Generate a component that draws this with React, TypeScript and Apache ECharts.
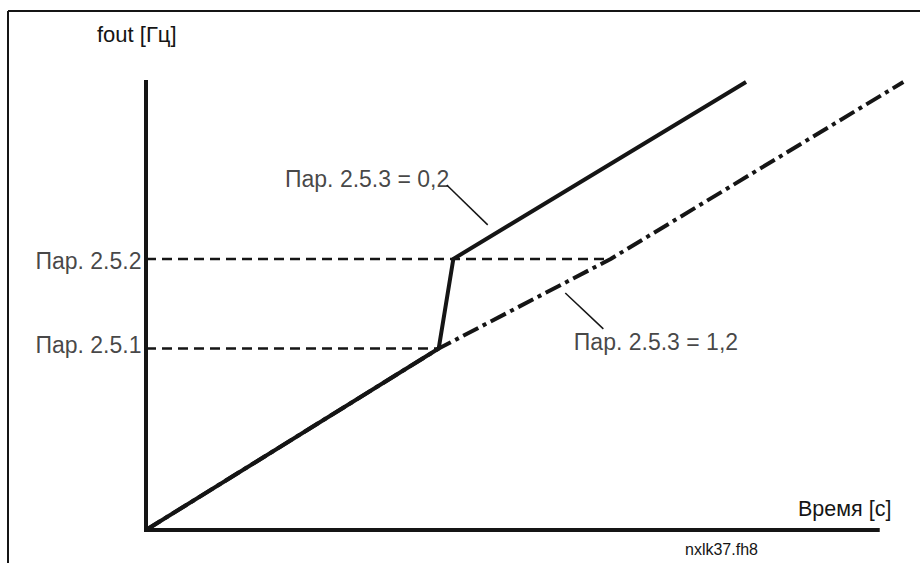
import React, { useEffect, useRef } from "react";
import * as echarts from "echarts";

// Axis ranges (arbitrary units: time / frequency)
const xMax = 104;
const yMax = 100;

// Axes drawn as a polyline: top of f-axis, origin, end of time axis
const axisPoints: [number, number][] = [[0, 100], [0, 0], [100, 0]];

// Reference levels (tick labels on the f-axis)
const refLabels = ["Пар. 2.5.1", "Пар. 2.5.2"];
const refValues = [40.5, 60.5];
// x where each dashed reference line ends
const refEnds = [40, 63.5];

// Output frequency curves
const curveFast: [number, number][] = [[0, 0], [40, 40.5], [42, 60.5], [82, 100]]; // Пар. 2.5.3 = 0,2
const curveSlow: [number, number][] = [[0, 0], [40, 40.5], [63.5, 60.5], [103.5, 100]]; // Пар. 2.5.3 = 1,2

// Annotations
const noteTexts = ["Пар. 2.5.3 = 0,2", "Пар. 2.5.3 = 1,2"];
const leaderFast: [number, number][] = [[41.1, 77.0], [46.7, 68.1]];
const leaderSlow: [number, number][] = [[57.3, 52.9], [62.5, 44.9]];

const axisTitleY = "fout [Гц]";
const axisTitleX = "Время [с]";
const fileTag = "nxlk37.fh8";

const FONT = 'Arial, "Liberation Sans", Helvetica, sans-serif';
const INK = "#151515";
const LABEL_SIZE = 23;

export default function App() {
  const ref = useRef<HTMLDivElement>(null);

  useEffect(() => {
    if (!ref.current) return;
    const chart = echarts.init(ref.current, undefined, { renderer: "svg" });

    const lineBase = {
      type: "line" as const,
      symbol: "none",
      silent: true,
      animation: false,
      z: 2,
    };

    const option: any = {
      animation: false,
      backgroundColor: "#ffffff",
      textStyle: { fontFamily: FONT, color: INK },
      grid: { left: 146, right: 13, top: 82, bottom: 33, containLabel: false },
      xAxis: {
        type: "value",
        min: 0,
        max: xMax,
        axisLine: { show: false },
        axisTick: { show: false },
        axisLabel: { show: false },
        splitLine: { show: false },
      },
      yAxis: {
        type: "value",
        min: 0,
        max: yMax,
        axisLine: { show: false },
        axisTick: { show: false },
        axisLabel: { show: false },
        splitLine: { show: false },
      },
      graphic: [
        {
          type: "line",
          shape: { x1: 8, y1: 11, x2: 920, y2: 11 },
          style: { stroke: INK, lineWidth: 2 },
        },
        {
          type: "line",
          shape: { x1: 8, y1: 11, x2: 8, y2: 563 },
          style: { stroke: INK, lineWidth: 2 },
        },
        {
          type: "text",
          left: 97,
          top: 23,
          style: { text: axisTitleY, font: `22px ${FONT}`, fill: INK },
        },
        {
          type: "text",
          left: 798,
          top: 498,
          style: { text: axisTitleX, font: `21.5px ${FONT}`, fill: INK },
        },
        {
          type: "text",
          left: 685,
          top: 541,
          style: { text: fileTag, font: `16px ${FONT}`, fill: INK },
        },
      ],
      series: [
        // dashed reference levels
        ...refValues.map((v, i) => ({
          ...lineBase,
          z: 1,
          data: [[0, v], [refEnds[i], v]],
          lineStyle: { color: INK, width: 2.5, type: [10, 6] },
        })),
        // axes
        {
          ...lineBase,
          z: 3,
          data: axisPoints,
          lineStyle: { color: INK, width: 4, join: "miter", cap: "square" },
        },
        // fast curve (solid)
        {
          ...lineBase,
          data: curveFast,
          lineStyle: { color: INK, width: 4, join: "round" },
        },
        // slow curve (dash-dot)
        {
          ...lineBase,
          data: curveSlow,
          lineStyle: { color: INK, width: 4, type: [17, 5, 4, 5] },
        },
        // leader lines
        {
          ...lineBase,
          data: leaderFast,
          lineStyle: { color: INK, width: 1.5 },
        },
        {
          ...lineBase,
          data: leaderSlow,
          lineStyle: { color: INK, width: 1.5 },
        },
        // tick labels for reference levels
        {
          type: "scatter",
          silent: true,
          symbolSize: 1,
          itemStyle: { color: "rgba(0,0,0,0)" },
          data: refValues.map((v, i) => ({
            value: [0, v],
            label: {
              show: true,
              position: "left",
              distance: 4,
              formatter: refLabels[i],
              fontSize: LABEL_SIZE,
              fontFamily: FONT,
              color: INK,
              offset: [0, i === 0 ? -4 : 2],
            },
          })),
        },
        // annotation texts
        {
          type: "scatter",
          silent: true,
          symbolSize: 1,
          itemStyle: { color: "rgba(0,0,0,0)" },
          data: [
            {
              value: leaderFast[0],
              label: {
                show: true,
                position: "left",
                distance: 0,
                formatter: noteTexts[0],
                fontSize: LABEL_SIZE,
                fontFamily: FONT,
                color: INK,
                offset: [3, -6],
              },
            },
            {
              value: leaderSlow[1],
              label: {
                show: true,
                position: "right",
                distance: 0,
                formatter: noteTexts[1],
                fontSize: LABEL_SIZE,
                fontFamily: FONT,
                color: INK,
                offset: [-30, 13],
              },
            },
          ],
        },
      ],
    };

    chart.setOption(option);
    return () => chart.dispose();
  }, []);

  return (
    <div
      ref={ref}
      style={{
        position: "fixed",
        left: 0,
        top: 0,
        width: 920,
        height: 563,
        background: "#ffffff",
      }}
    />
  );
}
